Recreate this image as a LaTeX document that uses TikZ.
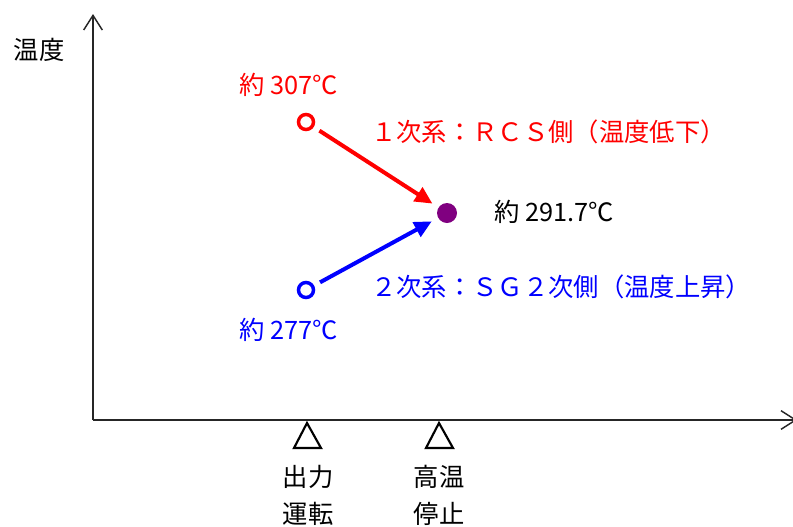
\documentclass[tikz,border=0pt]{standalone}
\usepackage{fontspec}
\newfontfamily\jp{Noto Sans CJK JP}
\usetikzlibrary{arrows.meta}
\definecolor{cred}{RGB}{255,0,0}
\definecolor{cblue}{RGB}{0,0,255}
\definecolor{cpurple}{RGB}{128,0,128}
\begin{document}
\begin{tikzpicture}[x=0.75pt,y=-0.75pt,
  lbl/.style={inner sep=0pt,font=\jp\fontsize{19}{22}\selectfont},
  axis/.style={line width=1.1pt,draw=black!85,-{Straight Barb[length=11pt,width=14pt,line width=1.1pt]}},
  hollow/.style={circle,draw,line width=2.6pt,minimum size=15pt*0.75,inner sep=0pt},
  tarr/.style={line width=3pt,-{Triangle[length=13pt,width=12pt]}},
  marker/.style={line width=1.6pt,line join=miter}]
\useasboundingbox (0,0) rectangle (793,526);
% axes
\coordinate (O) at (93,420);
\coordinate (ytop) at (93,14);
\coordinate (xend) at (797,420);
\draw[axis] (O) -- (ytop);
\draw[axis] (O) -- (xend);
\node[lbl,anchor=center] (ylabel) at (39,50) {温度};
% points
\node[hollow,draw=cred] (rc) at (306,122) {};
\node[hollow,draw=cblue] (bc) at (306,290) {};
\node[circle,fill=cpurple,minimum size=15pt,inner sep=0pt] (pc) at (447,213) {};
% arrows
\draw[tarr,draw=cred,fill=cred,shorten <=12pt,shorten >=13pt] (rc.center) -- (pc.center);
\draw[tarr,draw=cblue,fill=cblue,shorten <=12pt,shorten >=13pt] (bc.center) -- (pc.center);
% labels
\node[lbl,text=cred] (rt) at (289,85) {約 307℃};
\node[lbl,text=cblue] (bt) at (289,330) {約 277℃};
\node[lbl,anchor=west] (pt) at (494,212) {約 291.7℃};
\node[lbl,anchor=west,text=cred] (r1) at (371,132) {１次系：ＲＣＳ側（温度低下）};
\node[lbl,anchor=west,text=cblue] (b2) at (371,287) {２次系：ＳＧ２次側（温度上昇）};
% markers
\draw[marker] (307,423) -- (294,448) -- (321,448) -- cycle;
\draw[marker] (439,423) -- (426,448) -- (453,448) -- cycle;
\node[lbl] (m1a) at (308,477) {出力};
\node[lbl] (m1b) at (308,514) {運転};
\node[lbl] (m2a) at (439,477) {高温};
\node[lbl] (m2b) at (439,514) {停止};
\end{tikzpicture}
\end{document}
